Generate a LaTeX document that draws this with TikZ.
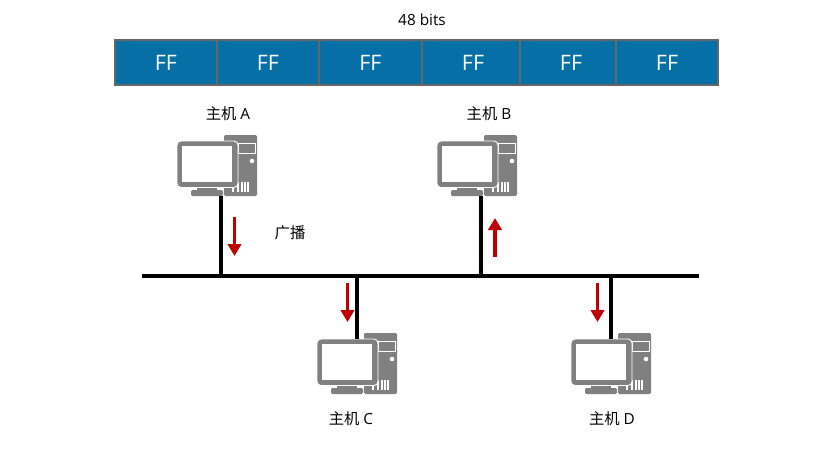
\documentclass[tikz,border=0pt]{standalone}
\usepackage{fontspec}
\setmainfont{Open Sans}
\newfontfamily\cjk{Noto Sans CJK SC}
\usetikzlibrary{arrows.meta}
\definecolor{cellblue}{HTML}{056FA6}
\definecolor{cellrim}{HTML}{666666}
\definecolor{pcgray}{HTML}{808080}
\definecolor{arrowred}{HTML}{C00000}
\newcommand{\fftext}{\raisebox{-3pt}{FF}}
\tikzset{
	cell/.style={draw=cellrim, line width=1.6pt, fill=cellblue, text=white, font=\fontsize{16pt}{16pt}\selectfont, inner sep=0pt, minimum height=33.75pt},
	caption/.style={font=\fontsize{11.5pt}{13pt}\selectfont, inner sep=0pt},
	wire/.style={line width=2.6pt, black, preaction={draw=black!35, line width=3.6pt}},
	signal/.style={line width=2.8pt, arrowred, -{Triangle[width=10pt,length=9pt]}},
	computer/.pic={
		% tower
		\fill[pcgray, rounded corners=1pt] (47,-6) rectangle (80,55);
		\draw[white, line width=0.7pt] (61,2) rectangle (78,12);
		\fill[white] (75,20) circle (1.7pt);
		\draw[white, line width=0.8pt] (56,46) -- (56,51) (61,41) -- (61,51) (65,41) -- (65,51) (68,41) -- (68,51) (71,41) -- (71,51);
		% screen
		\fill[pcgray, rounded corners=3pt, draw=white, line width=0.7pt] (0,0) rectangle (61,46.5);
		\fill[white] (5,5) rectangle (55,41);
		% foot
		\fill[pcgray] (20,46.5) rectangle (40,49);
		\fill[pcgray, rounded corners=1pt] (14,49) rectangle (46,55);
		\coordinate (-top) at (40,0);
		\coordinate (-foot) at (44,55);
	}
}
\begin{document}
\begin{tikzpicture}[x=0.75pt,y=-0.75pt]
	\useasboundingbox (0,0) rectangle (815,451);

	\node[caption] (width) at (422,20) {48 bits};

	\node[cell, minimum width=76.5pt] (ff1) at (166,62.5) {\fftext};
	\node[cell, minimum width=76.5pt] (ff2) at (268,62.5) {\fftext};
	\node[cell, minimum width=77.25pt] (ff3) at (370.5,62.5) {\fftext};
	\node[cell, minimum width=73.5pt] (ff4) at (471,62.5) {\hspace{3pt}\fftext};
	\node[cell, minimum width=72pt] (ff5) at (568,62.5) {\hspace{4.5pt}\fftext};
	\node[cell, minimum width=76.5pt] (ff6) at (667,62.5) {\fftext};

	\pic (pcA) at (177,141) {computer};
	\pic (pcB) at (437,141) {computer};
	\pic (pcC) at (317,339) {computer};
	\pic (pcD) at (571,339) {computer};

	\node[caption] (hostA) at (228,114) {{\cjk 主机} A};
	\node[caption] (hostB) at (489,114) {{\cjk 主机} B};
	\node[caption] (hostC) at (351,419) {{\cjk 主机} C};
	\node[caption] (hostD) at (612,419) {{\cjk 主机} D};
	\node[caption] (cast) at (290,233) {\cjk 广播};

	% bus and its taps
	\coordinate (busL) at (142,276);
	\coordinate (busR) at (699,276);
	\coordinate (tapA) at (221,276);
	\coordinate (tapB) at (481,276);
	\coordinate (tapC) at (357,276);
	\coordinate (tapD) at (611,276);
	\draw[wire] (pcA-foot) -- (tapA);
	\draw[wire] (pcB-foot) -- (tapB);
	\draw[wire] (tapC) -- (pcC-top);
	\draw[wire] (tapD) -- (pcD-top);
	\draw[wire] (busL) -- (busR);

	% direction of the frame
	\coordinate (a1) at (234.5,217);
	\coordinate (a2) at (234.5,256);
	\coordinate (b1) at (495,257);
	\coordinate (b2) at (495,218);
	\coordinate (c1) at (347.5,283);
	\coordinate (c2) at (347.5,322);
	\coordinate (d1) at (597.5,283);
	\coordinate (d2) at (597.5,322);
	\draw[signal] (a1) -- (a2);
	\draw[signal] (b1) -- (b2);
	\draw[signal] (c1) -- (c2);
	\draw[signal] (d1) -- (d2);
\end{tikzpicture}
\end{document}
